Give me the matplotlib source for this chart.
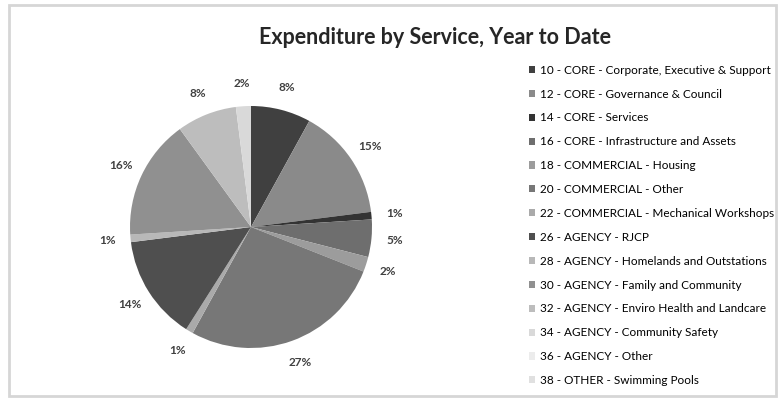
import matplotlib
matplotlib.use('Agg')
import matplotlib.pyplot as plt
from matplotlib.patches import Rectangle

plt.rcParams['font.family'] = ['Lato', 'DejaVu Sans']

SERVICES = [
    '10 - CORE - Corporate, Executive & Support',
    '12 - CORE - Governance & Council',
    '14 - CORE - Services',
    '16 - CORE - Infrastructure and Assets',
    '18 - COMMERCIAL - Housing',
    '20 - COMMERCIAL - Other',
    '22 - COMMERCIAL - Mechanical Workshops',
    '26 - AGENCY - RJCP',
    '28 - AGENCY - Homelands and Outstations',
    '30 - AGENCY - Family and Community',
    '32 - AGENCY - Enviro Health and Landcare',
    '34 - AGENCY - Community Safety',
    '36 - AGENCY - Other',
    '38 - OTHER - Swimming Pools',
]
SHARE = [8, 15, 1, 5, 2, 27, 1, 14, 1, 16, 8, 2, 0, 0]
GREYS = ['#404040', '#8a8a8a', '#333333', '#6e6e6e', '#9c9c9c', '#777777',
         '#aaaaaa', '#4f4f4f', '#b8b8b8', '#909090', '#bdbdbd', '#d9d9d9',
         '#ececec', '#e0e0e0']

fig = plt.figure(figsize=(7.78, 3.98), dpi=100)
fig.patches.append(Rectangle((9 / 778, 2 / 398), 767 / 778, 391 / 398,
                             transform=fig.transFigure, fill=False,
                             edgecolor='#d6d6d6', linewidth=2))

ax = fig.add_axes([130 / 778, 50 / 398, 242 / 778, 242 / 398])


def pct(p):
    return '%d%%' % round(p) if p > 0.5 else ''


wedges, texts, autotexts = ax.pie(
    SHARE, colors=GREYS, startangle=90, counterclock=False,
    autopct=pct, pctdistance=1.19,
    wedgeprops={'linewidth': 0},
    textprops={'fontsize': 8.5, 'fontweight': 'bold', 'color': '#404040'},
)
ax.set_xlim(-1, 1)
ax.set_ylim(-1, 1)
ax.set_aspect('equal')

fig.text(435 / 778, 1 - 38 / 398, 'Expenditure by Service, Year to Date',
         ha='center', va='center', fontsize=15.5, fontweight='bold',
         color='#262626')

fig.legend(wedges, SERVICES, loc='upper left',
           bbox_to_anchor=(524 / 778, 1 - 60 / 398), frameon=False,
           fontsize=8.5, handlelength=0.55, handleheight=0.55,
           handletextpad=0.4, labelspacing=1.09, borderaxespad=0)

plt.savefig('out.png', dpi=100)
